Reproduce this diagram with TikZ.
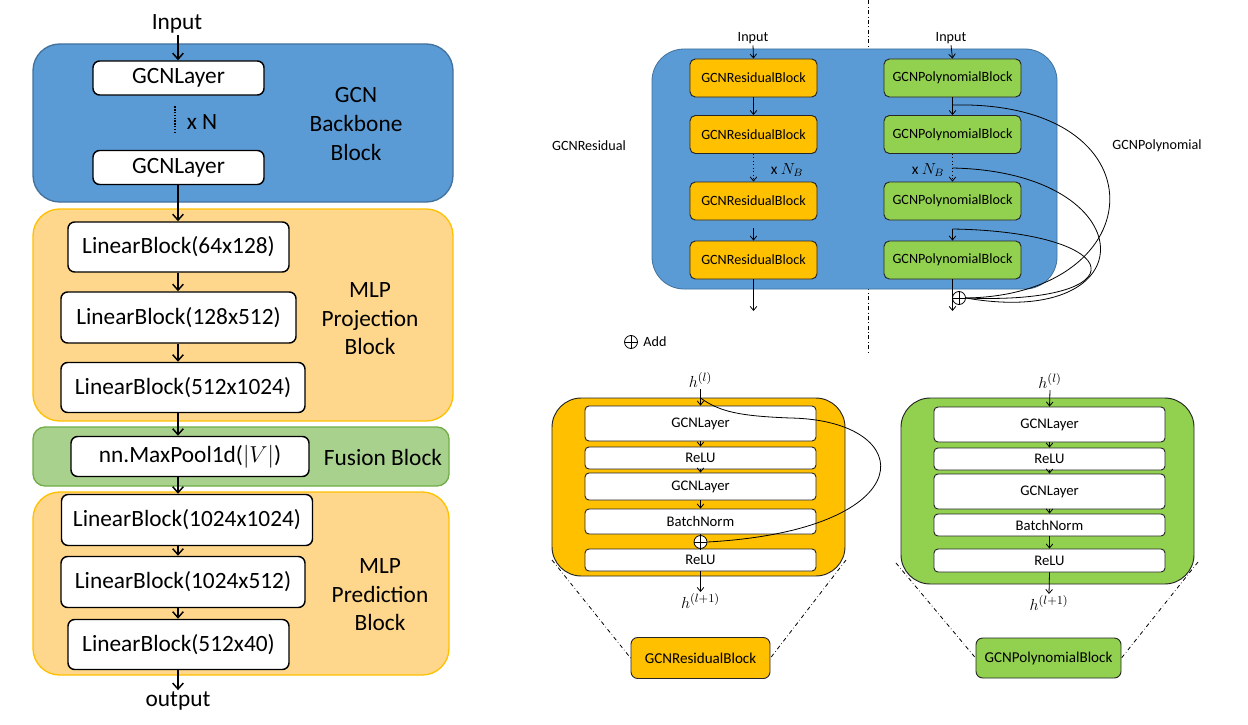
\documentclass[tikz,border=0pt]{standalone}
\usepackage{fontspec}
\setmainfont{Carlito}
\usepackage{amsmath}
\usetikzlibrary{arrows.meta}

\definecolor{bbBlue}{HTML}{5B9BD5}
\definecolor{bbBlueLine}{HTML}{41719C}
\definecolor{mlpFill}{HTML}{FFD78C}
\definecolor{mlpLine}{HTML}{FFC000}
\definecolor{fuseFill}{HTML}{A9D18E}
\definecolor{fuseLine}{HTML}{70AD47}
\definecolor{resOrange}{HTML}{FFC000}
\definecolor{polGreen}{HTML}{92D050}

\tikzset{
  flow/.style={-{Straight Barb[length=4.5pt,width=8pt]},line width=1.1pt},
  arrowS/.style={-{Straight Barb[length=3pt,width=5pt]},line width=0.6pt},
  txtL/.style={font=\fontsize{17.5}{21.4}\selectfont,align=center,inner sep=1pt},
  txtS/.style={font=\fontsize{10.6}{12.5}\selectfont,inner sep=1pt},
  txtB/.style={font=\fontsize{13}{15}\selectfont,inner sep=1pt},
  layerbox/.style={draw=black,fill=white,rounded corners=5pt,line width=1.1pt,
    font=\fontsize{17.5}{21}\selectfont,inner sep=2pt},
  resbox/.style={draw=black!85,fill=resOrange,rounded corners=4pt,line width=0.7pt,
    minimum width=95.25pt,minimum height=28.5pt,font=\fontsize{10.6}{12.5}\selectfont},
  polybox/.style={resbox,fill=polGreen,minimum width=102.75pt},
  innerbox/.style={draw=black!85,fill=white,rounded corners=3pt,line width=0.7pt,
    minimum width=173.25pt,inner sep=1pt,font=\fontsize{11}{13}\selectfont},
  addsym/.style={circle,draw,fill=white,inner sep=0pt,minimum size=9.75pt,line width=0.6pt,
    path picture={\draw (path picture bounding box.north) -- (path picture bounding box.south)
      (path picture bounding box.west) -- (path picture bounding box.east);}},
  zoomline/.style={dash dot,line width=0.6pt}
}

\begin{document}
\begin{tikzpicture}[x=0.75pt,y=-0.75pt]
\useasboundingbox (0,0) rectangle (1248,724);

% left: backbone, projection, fusion, prediction
\path[fill=bbBlue,draw=bbBlueLine,line width=1pt,rounded corners=20pt] (33,44) rectangle (453,202);
\path[fill=mlpFill,draw=mlpLine,line width=1pt,rounded corners=20pt] (33,209) rectangle (453,421);
\path[fill=fuseFill,draw=fuseLine,line width=1pt,rounded corners=9pt] (33,427) rectangle (449,486);
\path[fill=mlpFill,draw=mlpLine,line width=1pt,rounded corners=20pt] (33,492) rectangle (449,675);

\node[txtL] (inL) at (177,24) {Input};
\node[layerbox,minimum width=128.25pt,minimum height=25.5pt] (gcnA) at (178.5,78) {GCNLayer};
\node[layerbox,minimum width=128.25pt,minimum height=25.5pt] (gcnB) at (178.5,167.5) {GCNLayer};
\draw[densely dotted,line width=1.1pt] ([xshift=-2.5pt,yshift=-8pt]gcnA.south) -- ([xshift=-2.5pt,yshift=12pt]gcnB.north);
\node[txtL] (xN) at (202,122) {x N};
\node[layerbox,minimum width=165.75pt,minimum height=37.5pt] (lin1) at (178.5,247) {LinearBlock(64x128)};
\node[layerbox,minimum width=176.25pt,minimum height=38.25pt] (lin2) at (178.5,317.5) {LinearBlock(128x512)};
\node[layerbox,minimum width=183pt,minimum height=37.5pt] (lin3) at (183,387.5) {LinearBlock(512x1024)};
\node[layerbox,minimum width=178.5pt,minimum height=30pt] (pool) at (190,456.5) {nn.MaxPool1d($|V|$)};
\node[layerbox,minimum width=188.25pt,minimum height=38.25pt] (lin4) at (187,520) {LinearBlock(1024x1024)};
\node[layerbox,minimum width=183pt,minimum height=38.25pt] (lin5) at (183,582) {LinearBlock(1024x512)};
\node[layerbox,minimum width=165.75pt,minimum height=37.5pt] (lin6) at (178.5,644.5) {LinearBlock(512x40)};
\node[txtL] (outL) at (178,701) {output};

\node[txtL] (lblGcn) at (356,124) {GCN\\Backbone\\Block};
\node[txtL] (lblProj) at (370,319) {MLP\\Projection\\Block};
\node[txtL] (lblFuse) at (383,457) {Fusion Block};
\node[txtL] (lblPred) at (380,595) {MLP\\Prediction\\Block};

\coordinate (axisL) at (178,0);
\foreach \a/\b in {inL/gcnA,gcnB/lin1,lin1/lin2,lin2/lin3,lin3/pool,pool/lin4,lin4/lin5,lin5/lin6,lin6/outL}
  \draw[flow] (\a.south -| axisL) -- (\b.north -| axisL);

% top right: stacked blocks
\draw[dash dot,line width=0.6pt] (868,0) -- (868,355);
\path[fill=bbBlue,draw=bbBlueLine,line width=0.6pt,rounded corners=24pt] (652,49) rectangle (1057,289);
\foreach \n/\y in {A/78,B/134.5,C/201,D/260} {
  \node[resbox] (res\n) at (753.5,\y) {GCNResidualBlock};
  \node[polybox] (pol\n) at (952.5,\y) {GCNPolynomialBlock};
}
\node[txtS] (inRes) at (753,38) {Input};
\node[txtS] (inPol) at (951,38) {Input};
\node[txtS] (lblRes) at (589,146) {GCNResidual};
\node[txtS] (lblPol) at (1157,146) {GCNPolynomial};
\node[txtS,font=\fontsize{11.5}{13}\selectfont] (nbRes) at (787,170) {x $N_B$};
\node[txtS,font=\fontsize{11.5}{13}\selectfont] (nbPol) at (928,170) {x $N_B$};
\coordinate (gapRes) at (753.5,228);
\coordinate (endRes) at (753.5,311);
\coordinate (tapA) at (952.5,105);
\coordinate (tapB) at (952.5,168);
\coordinate (tapC) at (952.5,229);
\coordinate (endPol) at (952.5,311);
\node[addsym] (addP) at (959,298) {};

\draw[arrowS] (inRes.south) -- (resA.north);
\draw[arrowS] (resA.south) -- (resB.north);
\draw[arrowS,dotted] (resB.south) -- (resC.north);
\draw[arrowS] (gapRes) -- (resD.north);
\draw[arrowS] (resD.south) -- (endRes);
\draw[arrowS] (inPol.south) -- (polA.north);
\draw[arrowS] (polA.south) -- (polB.north);
\draw[arrowS,dotted] (polB.south) -- (polC.north);
\draw[arrowS] (tapC) -- (polD.north);
\draw[arrowS] (polD.south) -- (endPol);
\draw[line width=0.6pt] (tapA) .. controls (1165,100) and (1155,295) .. (addP.east);
\draw[line width=0.6pt] (tapB) .. controls (1145,172) and (1150,330) .. (addP.east);
\draw[line width=0.6pt] (tapC) .. controls (1130,232) and (1140,305) .. (addP.east);

\node[addsym] (addLeg) at (631,342) {};
\node[txtS] (lblAdd) at (655,342) {Add};

% bottom right: residual block
\path[fill=resOrange,draw=black!85,line width=0.7pt,rounded corners=22pt] (552,398) rectangle (845,576);
\foreach \n/\y/\h/\t in {rgA/423.5/26.25pt/GCNLayer,rrA/458/16.5pt/ReLU,rgB/486.5/20.25pt/GCNLayer,
    rbn/521.5/18.75pt/BatchNorm,rrB/560/16.5pt/ReLU}
  \node[innerbox,minimum height=\h] (\n) at (700.5,\y) {\t};
\node[addsym] (addR) at (700.5,542) {};
\node[txtB] (hInR) at (700.5,380) {$h^{(l)}$};
\node[txtB] (hOutR) at (700.5,601) {$h^{(l+1)}$};
\coordinate (skipR) at (700.5,398);
\draw[arrowS] (hInR.south) -- (rgA.north);
\foreach \a/\b in {rgA/rrA,rrA/rgB,rgB/rbn}
  \draw[arrowS] (\a.south) -- (\b.north);
\draw[line width=0.6pt] (rbn.south) -- (addR.north) (addR.south) -- (rrB.north);
\draw[arrowS] (rrB.south) -- (hOutR.north);
\draw[line width=0.6pt] (skipR) .. controls (720,412) and (740,416) .. (790,418)
  .. controls (920,420) and (925,530) .. (addR.east);
\node[draw=black!85,fill=resOrange,rounded corners=5pt,line width=0.7pt,minimum width=104.25pt,
  minimum height=30.75pt,font=\fontsize{11.3}{13}\selectfont] (smallR) at (700.5,658) {GCNResidualBlock};
\coordinate (cutRL) at (552,560);
\coordinate (cutRR) at (846,560);
\draw[zoomline] (cutRL) -- (smallR.west);
\draw[zoomline] (cutRR) -- (smallR.east);

% bottom right: polynomial block
\path[fill=polGreen,draw=black!85,line width=0.7pt,rounded corners=22pt] (901,398) rectangle (1194,584);
\foreach \n/\y/\h/\t in {pgA/424.5/26.25pt/GCNLayer,prA/459/16.5pt/ReLU,pgB/491.5/26.25pt/GCNLayer,
    pbn/525/16.5pt/BatchNorm,prB/560.5/17.25pt/ReLU}
  \node[innerbox,minimum height=\h] (\n) at (1049.5,\y) {\t};
\node[txtB] (hInP) at (1050,381) {$h^{(l)}$};
\node[txtB] (hOutP) at (1049,603) {$h^{(l+1)}$};
\draw[arrowS] (hInP.south) -- (pgA.north);
\foreach \a/\b in {pgA/prA,prA/pgB,pgB/pbn,pbn/prB}
  \draw[arrowS] (\a.south) -- (\b.north);
\draw[arrowS] (prB.south) -- (hOutP.north);
\node[draw=black!85,fill=polGreen,rounded corners=5pt,line width=0.7pt,minimum width=108.75pt,
  minimum height=30pt,font=\fontsize{11.3}{13}\selectfont] (smallP) at (1048.5,658) {GCNPolynomialBlock};
\coordinate (cutPL) at (896,563);
\coordinate (cutPR) at (1198,562);
\draw[zoomline] (cutPL) -- (smallP.west);
\draw[zoomline] (cutPR) -- (smallP.east);
\end{tikzpicture}
\end{document}
